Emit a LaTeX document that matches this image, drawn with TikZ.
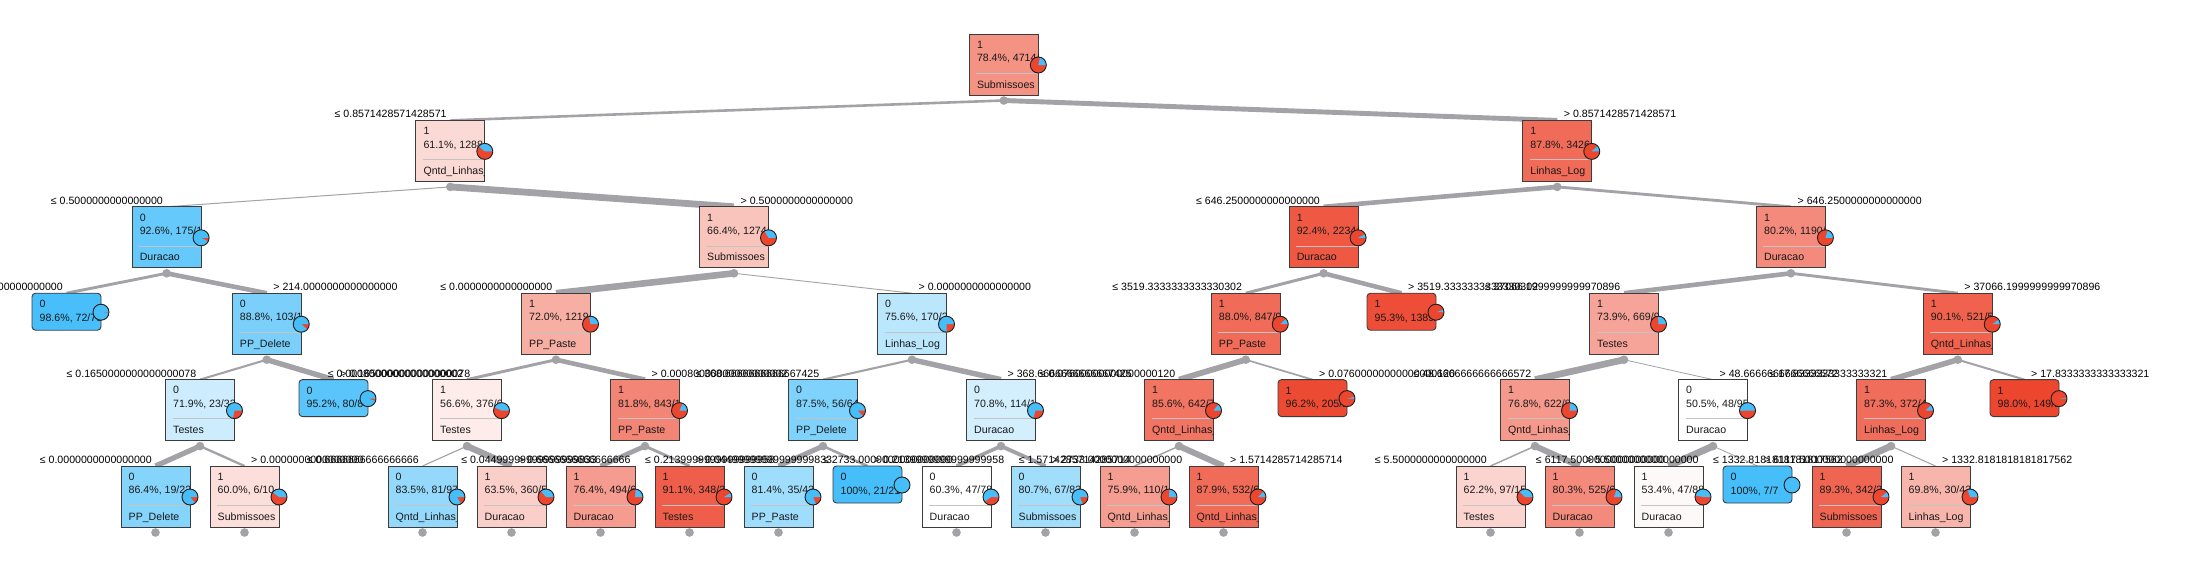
\documentclass[tikz,border=0pt]{standalone}
\usepackage{fontspec}
\setmainfont{Liberation Sans}
\pgfdeclarelayer{edgelayer}
\pgfsetlayers{edgelayer,main}
\definecolor{cz}{RGB}{70,190,250}
\definecolor{co}{RGB}{237,70,47}
\definecolor{edgec}{RGB}{162,162,167}
\definecolor{bordc}{RGB}{60,60,60}
\definecolor{sepc}{RGB}{196,196,196}
\definecolor{txtc}{RGB}{25,25,25}
\definecolor{piec}{RGB}{30,30,30}
\newcommand{\tfs}{\fontsize{10.6}{12.5}\selectfont}
\tikzset{
 ibox/.style={rectangle, draw=bordc, line width=0.9pt, minimum width=69pt, minimum height=61pt, inner sep=0pt, outer sep=0pt, anchor=north west},
 lbox/.style={ibox, minimum height=37pt, rounded corners=3.5pt},
 txt/.style={anchor=base west, inner sep=0pt, font=\tfs, text=txtc},
 lab/.style={inner sep=0pt, font=\tfs, text=black},
 sepline/.style={draw=sepc, line width=1pt},
 dot/.style={circle, fill=edgec, minimum size=8.6pt, inner sep=0pt},
 edge/.style={draw=edgec},
 pieline/.style={draw=piec, line width=0.9pt},
}
\newcommand{\piechart}[3]{%
  \coordinate (#1p) at ([shift={(0,#2)}]#1.north east);
  \fill[co] (#1p) circle[radius=8pt];
  \fill[cz] (#1p) -- ++(0:8pt) arc[start angle=0,end angle={360*#3},radius=8pt] -- cycle;
  \draw[pieline] (#1p) circle[radius=8pt];
}
\newcommand{\inode}[8]{%
  \pgfmathsetmacro{\nty}{34+86.4*#3}
  \node[ibox,fill=#7] (#1) at (#2,\nty) {};
  \begin{scope}
    \clip (#1.north west) rectangle (#1.south east);
    \node[txt] at ([shift={(7.5,14.3)}]#1.north west) {#4};
    \node[txt] at ([shift={(7.5,27.7)}]#1.north west) {#5};
    \draw[sepline] ([shift={(7,39.3)}]#1.north west) -- ([shift={(0,39.3)}]#1.north east);
    \node[txt] at ([shift={(7.5,54)}]#1.north west) {#6};
  \end{scope}
  \node[dot] (#1d) at ([shift={(0,5.5)}]#1.south) {};
  \piechart{#1}{31}{#8}
}
\newcommand{\lnode}[7]{%
  \pgfmathsetmacro{\nty}{34+86.4*#3}
  \node[lbox,fill=#6] (#1) at (#2,\nty) {};
  \begin{scope}
    \clip (#1.north west) rectangle (#1.south east);
    \node[txt] at ([shift={(7.5,14.5)}]#1.north west) {#4};
    \node[txt] at ([shift={(7.5,28)}]#1.north west) {#5};
  \end{scope}
  \piechart{#1}{19}{#7}
}
\newcommand{\labL}[2]{\node[lab,anchor=base east] (#1l) at ([shift={(-3.5,-2.5)}]#1.north) {#2};}
\newcommand{\labR}[2]{\node[lab,anchor=base west] (#1l) at ([shift={(6.5,-2.5)}]#1.north) {#2};}
\newcommand{\edge}[3]{\draw[edge,line width=#3pt] (#1d.center) -- (#2.north);}

\begin{document}
\begin{tikzpicture}[x=1pt,y=-1pt]
\useasboundingbox (0,0) rectangle (2197,581);
% row 0-2
\inode{R}{969.3}{0}{1}{78.4\%, 4714/6010}{Submissoes}{co!59!white}{0.216}
\inode{A}{415.8}{1}{1}{61.1\%, 1288/2108}{Qntd\_Linhas\_}{co!20!white}{0.389}
\inode{B}{1522.75}{1}{1}{87.8\%, 3426/3902}{Linhas\_Log}{co!80!white}{0.122}
\inode{A1}{132.1}{2}{0}{92.6\%, 175/189}{Duracao}{cz!83!white}{0.926}
\inode{A2}{699.5}{2}{1}{66.4\%, 1274/1919}{Submissoes}{co!32!white}{0.336}
\inode{B1}{1289.1}{2}{1}{92.4\%, 2234/2418}{Duracao}{co!90!white}{0.076}
\inode{B2}{1756.4}{2}{1}{80.2\%, 1190/1484}{Duracao}{co!63!white}{0.198}
% row 3
\lnode{A1a}{32}{3}{0}{98.6\%, 72/73}{cz!99!white}{0.986}
\inode{A1b}{232.25}{3}{0}{88.8\%, 103/116}{PP\_Delete}{cz!72!white}{0.888}
\inode{A2a}{521.5}{3}{1}{72.0\%, 1219/1693}{PP\_Paste}{co!44!white}{0.28}
\inode{A2b}{877.5}{3}{0}{75.6\%, 170/225}{Linhas\_Log}{cz!37!white}{0.756}
\inode{B1a}{1211.25}{3}{1}{88.0\%, 847/962}{PP\_Paste}{co!80!white}{0.12}
\lnode{B1b}{1367}{3}{1}{95.3\%, 1389/1457}{co!96!white}{0.047}
\inode{B2a}{1589.5}{3}{1}{73.9\%, 669/905}{Testes}{co!49!white}{0.261}
\inode{B2b}{1923.25}{3}{1}{90.1\%, 521/578}{Qntd\_Linhas\_}{co!85!white}{0.099}
% row 4
\inode{A1b1}{165.5}{4}{0}{71.9\%, 23/32}{Testes}{cz!27!white}{0.719}
\lnode{A1b2}{299}{4}{0}{95.2\%, 80/84}{cz!90!white}{0.952}
\inode{A2a1}{432.5}{4}{1}{56.6\%, 376/664}{Testes}{co!10!white}{0.434}
\inode{A2a2}{610.5}{4}{1}{81.8\%, 843/1031}{PP\_Paste}{co!66!white}{0.182}
\inode{A2b1}{788.5}{4}{0}{87.5\%, 56/64}{PP\_Delete}{cz!69!white}{0.875}
\inode{A2b2}{966.5}{4}{0}{70.8\%, 114/161}{Duracao}{cz!24!white}{0.708}
\inode{B1a1}{1144.5}{4}{1}{85.6\%, 642/750}{Qntd\_Linhas\_}{co!75!white}{0.144}
\lnode{B1a2}{1278}{4}{1}{96.2\%, 205/213}{co!98!white}{0.038}
\inode{B2a1}{1500.5}{4}{1}{76.8\%, 622/810}{Qntd\_Linhas\_}{co!55!white}{0.232}
\inode{B2a2}{1678.5}{4}{0}{50.5\%, 48/95}{Duracao}{white}{0.505}
\inode{B2b1}{1856.5}{4}{1}{87.3\%, 372/426}{Linhas\_Log}{co!79!white}{0.127}
\lnode{B2b2}{1990}{4}{1}{98.0\%, 149/152}{co!100!white}{0.02}
% row 5
\inode{A1b1a}{121}{5}{0}{86.4\%, 19/22}{PP\_Delete}{cz!66!white}{0.864}
\inode{A1b1b}{210}{5}{1}{60.0\%, 6/10}{Submissoes}{co!18!white}{0.4}
\inode{A2a1a}{388}{5}{0}{83.5\%, 81/97}{Qntd\_Linhas\_}{cz!58!white}{0.835}
\inode{A2a1b}{477}{5}{1}{63.5\%, 360/567}{Duracao}{co!26!white}{0.365}
\inode{A2a2a}{566}{5}{1}{76.4\%, 494/647}{Duracao}{co!54!white}{0.236}
\inode{A2a2b}{655}{5}{1}{91.1\%, 348/382}{Testes}{co!87!white}{0.089}
\inode{A2b1a}{744}{5}{0}{81.4\%, 35/43}{PP\_Paste}{cz!52!white}{0.814}
\lnode{A2b1b}{833}{5}{0}{100\%, 21/21}{cz!100!white}{1}
\inode{A2b2a}{922}{5}{0}{60.3\%, 47/78}{Duracao}{white}{0.603}
\inode{A2b2b}{1011}{5}{0}{80.7\%, 67/83}{Submissoes}{cz!51!white}{0.807}
\inode{B1a1a}{1100}{5}{1}{75.9\%, 110/145}{Qntd\_Linhas\_}{co!53!white}{0.241}
\inode{B1a1b}{1189}{5}{1}{87.9\%, 532/605}{Qntd\_Linhas\_}{co!80!white}{0.121}
\inode{B2a1a}{1456}{5}{1}{62.2\%, 97/156}{Testes}{co!23!white}{0.378}
\inode{B2a1b}{1545}{5}{1}{80.3\%, 525/654}{Duracao}{co!63!white}{0.197}
\inode{B2a2a}{1634}{5}{1}{53.4\%, 47/88}{Duracao}{co!3!white}{0.466}
\lnode{B2a2b}{1723}{5}{0}{100\%, 7/7}{cz!100!white}{1}
\inode{B2b1a}{1812}{5}{1}{89.3\%, 342/383}{Submissoes}{co!83!white}{0.107}
\inode{B2b1b}{1901}{5}{1}{69.8\%, 30/43}{Linhas\_Log}{co!40!white}{0.302}
% labels
\labL{A}{≤ 0.8571428571428571}
\labR{B}{> 0.8571428571428571}
\labL{A1}{≤ 0.5000000000000000}
\labR{A2}{> 0.5000000000000000}
\labL{B1}{≤ 646.2500000000000000}
\labR{B2}{> 646.2500000000000000}
\labL{A1a}{≤ 214.0000000000000000}
\labR{A1b}{> 214.0000000000000000}
\labL{A2a}{≤ 0.0000000000000000}
\labR{A2b}{> 0.0000000000000000}
\labL{B1a}{≤ 3519.3333333333330302}
\labR{B1b}{> 3519.3333333333330302}
\labL{B2a}{≤ 37066.1999999999970896}
\labR{B2b}{> 37066.1999999999970896}
\labL{A1b1}{≤ 0.1650000000000000078}
\labR{A1b2}{> 0.1650000000000000078}
\labL{A2a1}{≤ 0.00080000000000000002}
\labR{A2a2}{> 0.00080000000000000002}
\labL{A2b1}{≤ 368.6666666666667425}
\labR{A2b2}{> 368.6666666666667425}
\labL{B1a1}{≤ 0.07600000000000000120}
\labR{B1a2}{> 0.07600000000000000120}
\labL{B2a1}{≤ 48.6666666666666572}
\labR{B2a2}{> 48.6666666666666572}
\labL{B2b1}{≤ 17.8333333333333321}
\labR{B2b2}{> 17.8333333333333321}
\labL{A1b1a}{≤ 0.0000000000000000}
\labR{A1b1b}{> 0.0000000000000000}
\labL{A2a1a}{≤ 0.6666666666666666}
\labR{A2a1b}{> 0.6666666666666666}
\labL{A2a2a}{≤ 0.04499999999999999833}
\labR{A2a2b}{> 0.04499999999999999833}
\labL{A2b1a}{≤ 0.2139999999999999958}
\labR{A2b1b}{> 0.2139999999999999958}
\labL{A2b2a}{≤ 2733.0000000000000000}
\labR{A2b2b}{> 2733.0000000000000000}
\labL{B1a1a}{≤ 1.5714285714285714}
\labR{B1a1b}{> 1.5714285714285714}
\labL{B2a1a}{≤ 5.5000000000000000}
\labR{B2a1b}{> 5.5000000000000000}
\labL{B2a2a}{≤ 6117.5000000000000000}
\labR{B2a2b}{> 6117.5000000000000000}
\labL{B2b1a}{≤ 1332.8181818181817562}
\labR{B2b1b}{> 1332.8181818181817562}
% edges
\begin{pgfonlayer}{edgelayer}
\fill[white] (0,0) rectangle (2197,581);
\edge{R}{A}{2.6} \edge{R}{B}{4.9}
\edge{A}{A1}{1} \edge{A}{A2}{6.8}
\edge{B}{B1}{4.6} \edge{B}{B2}{2.85}
\edge{A1}{A1a}{2.9} \edge{A1}{A1b}{4.6}
\edge{A2}{A2a}{6.6} \edge{A2}{A2b}{0.9}
\edge{B1}{B1a}{3.0} \edge{B1}{B1b}{4.5}
\edge{B2}{B2a}{4.6} \edge{B2}{B2b}{2.9}
\edge{A1b}{A1b1}{2.1} \edge{A1b}{A1b2}{5.4}
\edge{A2a}{A2a1}{2.9} \edge{A2a}{A2a2}{4.6}
\edge{A2b}{A2b1}{2.1} \edge{A2b}{A2b2}{5.4}
\edge{B1a}{B1a1}{5.8} \edge{B1a}{B1a2}{1.7}
\edge{B2a}{B2a1}{6.7} \edge{B2a}{B2a2}{0.8}
\edge{B2b}{B2b1}{5.5} \edge{B2b}{B2b2}{2.0}
\edge{A1b1}{A1b1a}{5.2} \edge{A1b1}{A1b1b}{2.3}
\edge{A2a1}{A2a1a}{1.1} \edge{A2a1}{A2a1b}{6.4}
\edge{A2a2}{A2a2a}{4.7} \edge{A2a2}{A2a2b}{2.8}
\edge{A2b1}{A2b1a}{5.0} \edge{A2b1}{A2b1b}{2.5}
\edge{A2b2}{A2b2a}{3.6} \edge{A2b2}{A2b2b}{3.9}
\edge{B1a1}{B1a1a}{1.45} \edge{B1a1}{B1a1b}{6.0}
\edge{B2a1}{B2a1a}{1.45} \edge{B2a1}{B2a1b}{6.0}
\edge{B2a2}{B2a2a}{6.9} \edge{B2a2}{B2a2b}{0.8}
\edge{B2b1}{B2b1a}{6.7} \edge{B2b1}{B2b1b}{1}
\end{pgfonlayer}
\end{tikzpicture}
\end{document}
